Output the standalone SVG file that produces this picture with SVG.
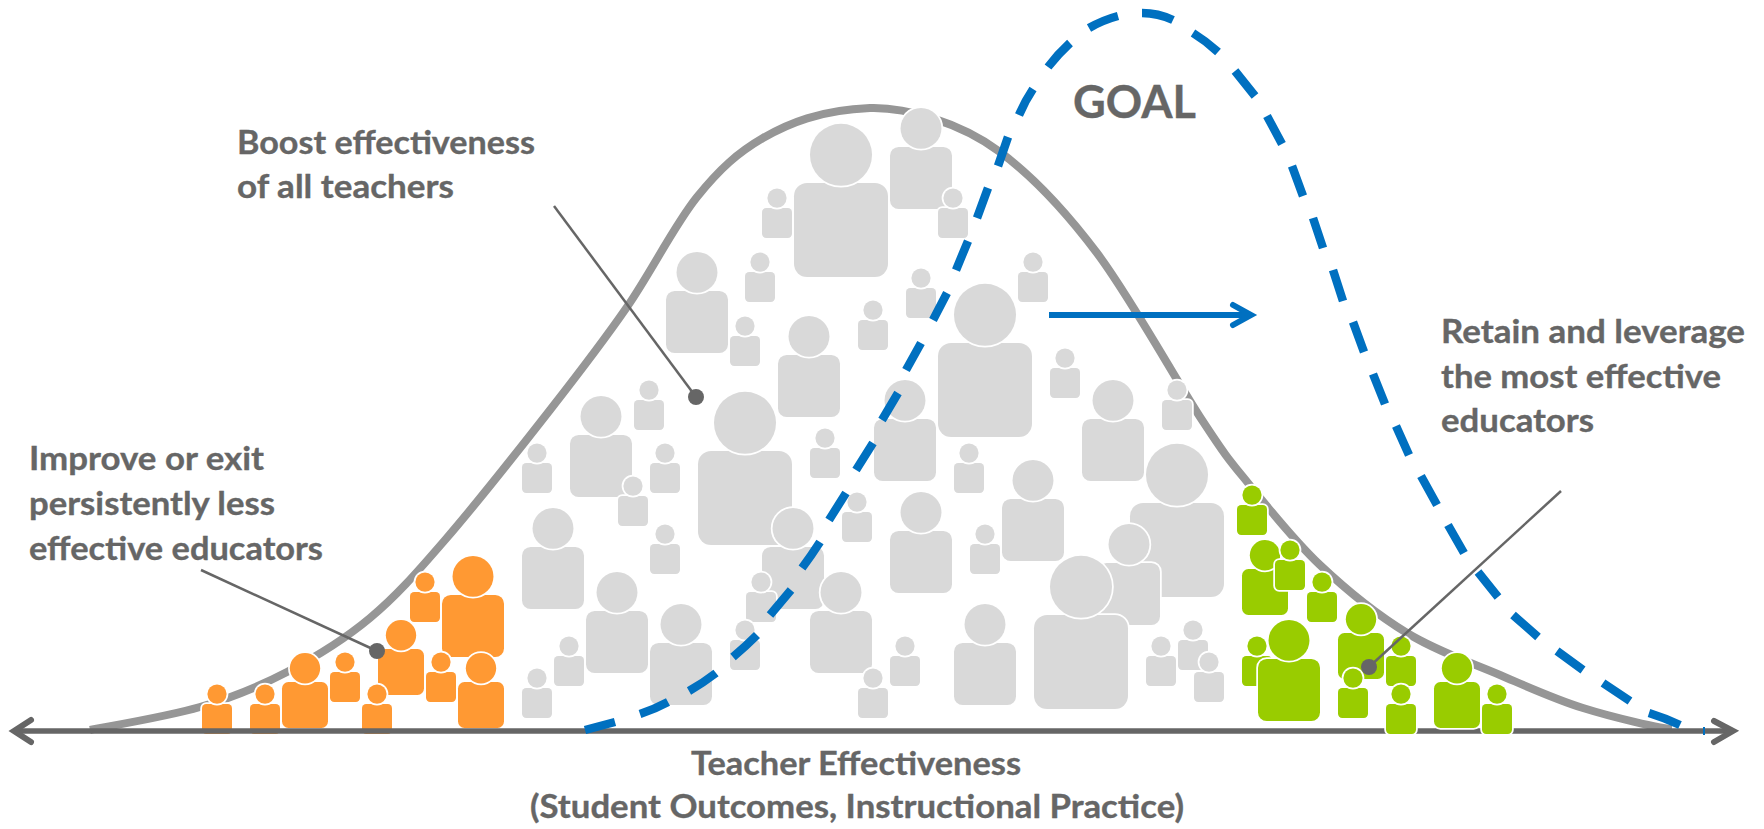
<svg xmlns="http://www.w3.org/2000/svg" width="1764" height="829" viewBox="0 0 1764 829">
<style>
text{font-family:Lato,"Liberation Sans",sans-serif;font-weight:700;fill:#666;stroke:#666;stroke-width:.35}
.t{font-size:33px}
.g{fill:#d9d9d9}.o{fill:#ff9933}.n{fill:#99cc00}
.p *{stroke:#fff;stroke-width:3.5;paint-order:stroke;vector-effect:non-scaling-stroke}
.line{fill:none;stroke:#666;stroke-width:2.5}
.dot{fill:#666}
</style>
<defs>
<g id="p" class="p"><rect x="-50" y="0" width="100" height="100" rx="14"/><circle cx="0" cy="-30" r="33"/></g>
<g id="s" class="p"><rect x="-50" y="0" width="100" height="100" rx="14"/><circle cx="0" cy="-33" r="32"/></g>
</defs>
<rect width="1764" height="829" fill="#fff"/>
<path id="curve" fill="none" stroke="#969696" stroke-width="8" d="M90 730C104 727 167 716.7 200 707C233 697.3 258.7 686.8 287 672C315.3 657.2 343.7 640 370 618C396.3 596 415 574.7 445 540C475 505.3 519.7 448.8 550 410C580.3 371.2 602.5 342.5 627 307C651.5 271.5 674.3 225.2 697 197C719.7 168.8 738 152.5 763 138C788 123.5 820 110 870 108C905 107 960 122 1000 152C1032.3 176 1063.3 208.3 1097 253C1130.7 297.7 1177 382 1202 420C1227 458 1228.3 458.8 1248 483C1267.7 507.2 1293.5 540 1320 565C1346.5 590 1377 614.7 1407 633C1437 651.3 1470.7 662.5 1500 675C1529.3 687.5 1554.3 699 1583 708C1611.7 717 1662 729 1672 729"/>
<g id="orange-people" class="o">
<use href="#s" transform="translate(217 704) scale(.3)"/>
<use href="#s" transform="translate(265 704) scale(.3)"/>
<use href="#p" transform="translate(305 682) scale(.46)"/>
<use href="#s" transform="translate(345 672) scale(.3)"/>
<use href="#p" transform="translate(401 649) scale(.46)"/>
<use href="#s" transform="translate(377 704) scale(.3)"/>
<use href="#s" transform="translate(425 592) scale(.3)"/>
<use href="#p" transform="translate(473 595) scale(.62)"/>
<use href="#s" transform="translate(441 672) scale(.3)"/>
<use href="#p" transform="translate(481 682) scale(.46)"/>
</g>
<g id="axis" fill="none" stroke="#666" stroke-width="5.5"><path d="M14 731H1733"/><path stroke-linecap="round" stroke-width="6" d="M31 720L14 731L31 742M1714 721L1733 731L1714 742"/></g>
<g id="gray-people" class="g">
<use href="#p" transform="translate(841 183) scale(.94)"/>
<use href="#p" transform="translate(921 147) scale(.62)"/>
<use href="#s" transform="translate(777 208) scale(.3)"/>
<use href="#s" transform="translate(953 208) scale(.3)"/>
<use href="#p" transform="translate(697 291) scale(.62)"/>
<use href="#s" transform="translate(760 272) scale(.3)"/>
<use href="#s" transform="translate(921 288) scale(.3)"/>
<use href="#s" transform="translate(1033 272) scale(.3)"/>
<use href="#s" transform="translate(745 336) scale(.3)"/>
<use href="#p" transform="translate(809 355) scale(.62)"/>
<use href="#s" transform="translate(873 320) scale(.3)"/>
<use href="#p" transform="translate(985 343) scale(.94)"/>
<use href="#s" transform="translate(1065 368) scale(.3)"/>
<use href="#p" transform="translate(1113 419) scale(.62)"/>
<use href="#s" transform="translate(1177 400) scale(.3)"/>
<use href="#s" transform="translate(537 463) scale(.3)"/>
<use href="#p" transform="translate(601 435) scale(.62)"/>
<use href="#s" transform="translate(649 400) scale(.3)"/>
<use href="#s" transform="translate(665 463) scale(.3)"/>
<use href="#s" transform="translate(633 496) scale(.3)"/>
<use href="#p" transform="translate(745 451) scale(.94)"/>
<use href="#s" transform="translate(825 448) scale(.3)"/>
<use href="#p" transform="translate(905 419) scale(.62)"/>
<use href="#s" transform="translate(969 463) scale(.3)"/>
<use href="#p" transform="translate(1033 499) scale(.62)"/>
<use href="#s" transform="translate(985 544) scale(.3)"/>
<use href="#p" transform="translate(921 531) scale(.62)"/>
<use href="#s" transform="translate(857 512) scale(.3)"/>
<use href="#s" transform="translate(665 544) scale(.3)"/>
<use href="#p" transform="translate(793 547) scale(.62)"/>
<use href="#s" transform="translate(761 592) scale(.3)"/>
<use href="#p" transform="translate(553 547) scale(.62)"/>
<use href="#p" transform="translate(617 611) scale(.62)"/>
<use href="#s" transform="translate(569 656) scale(.3)"/>
<use href="#s" transform="translate(537 688) scale(.3)"/>
<use href="#p" transform="translate(681 643) scale(.62)"/>
<use href="#s" transform="translate(745 640) scale(.3)"/>
<use href="#p" transform="translate(841 611) scale(.62)"/>
<use href="#s" transform="translate(873 688) scale(.3)"/>
<use href="#s" transform="translate(905 656) scale(.3)"/>
<use href="#p" transform="translate(985 643) scale(.62)"/>
<use href="#p" transform="translate(1177 503) scale(.94)"/>
<use href="#p" transform="translate(1129 563) scale(.62)"/>
<use href="#p" transform="translate(1081 615) scale(.94)"/>
<use href="#s" transform="translate(1161 656) scale(.3)"/>
<use href="#s" transform="translate(1193 640) scale(.3)"/>
<use href="#s" transform="translate(1209 672) scale(.3)"/>
</g>
<g id="goal-curve" fill="none" stroke="#0070c0" stroke-width="8.5">
<path d="M585 730L615 722M640 714Q655 709 668 702M689 691Q703 683 716 673M733 657Q746 646 757 635M770 615L791 590M802 568Q811 556 820 542M829 520L846 493M856 470L873 443M882 420L898 393M906 370L921 343M933 320L947 293M956 270L968 241M977 218L988 188M998 166L1008 137M1019 115Q1025 101 1033 89M1048 67Q1058 54 1070 43M1089 28Q1103 20 1118 16M1142 13Q1158 13 1173 20M1193 33Q1206 41 1218 52M1235 71L1255 96M1267 116L1282 144M1292 166L1303 196M1313 218L1323 248M1333 270L1343 301M1353 322L1364 352M1373 374L1385 404M1396 426L1409 455M1421 476L1437 505M1448 525L1464 553M1478 572L1498 597M1513 615L1538 637M1557 651L1583 670M1603 683L1630 701M1649 713Q1665 718 1680 725"/>
<path stroke-width="2" d="M1704 727V735"/>
</g>
<g id="goal-arrow" fill="none" stroke="#0070c0" stroke-width="6"><path d="M1049 315H1250"/><path stroke-linecap="round" d="M1233 305L1251 315L1233 325"/></g>
<g id="green-people" class="n">
<use href="#s" transform="translate(1252 505) scale(.3)"/>
<use href="#p" transform="translate(1265 569) scale(.46)"/>
<use href="#s" transform="translate(1290 560) scale(.3)"/>
<use href="#s" transform="translate(1322 592) scale(.3)"/>
<use href="#p" transform="translate(1361 633) scale(.46)"/>
<use href="#s" transform="translate(1401 656) scale(.3)"/>
<use href="#s" transform="translate(1257 656) scale(.3)"/>
<use href="#p" transform="translate(1289 659) scale(.62)"/>
<use href="#s" transform="translate(1353 688) scale(.3)"/>
<use href="#s" transform="translate(1401 704) scale(.3)"/>
<use href="#p" transform="translate(1457 682) scale(.46)"/>
<use href="#s" transform="translate(1497 704) scale(.3)"/>
</g>
<g id="connectors">
<path class="line" d="M554 206L696 397"/><circle class="dot" cx="696" cy="397" r="8"/>
<path class="line" d="M201 570L377 651"/><circle class="dot" cx="377" cy="651" r="8"/>
<path class="line" d="M1561 491L1369 667"/><circle class="dot" cx="1369" cy="667" r="8"/>
</g>
<g id="label-boost"><text class="t" x="237" y="153.5" textLength="298" lengthAdjust="spacingAndGlyphs">Boost effectiveness</text><text class="t" x="237" y="197.5" textLength="217" lengthAdjust="spacingAndGlyphs">of all teachers</text></g>
<g id="label-improve"><text class="t" x="29" y="470" textLength="235" lengthAdjust="spacingAndGlyphs">Improve or exit</text><text class="t" x="29" y="515" textLength="246" lengthAdjust="spacingAndGlyphs">persistently less</text><text class="t" x="29" y="560" textLength="294" lengthAdjust="spacingAndGlyphs">effective educators</text></g>
<g id="label-retain"><text class="t" x="1441" y="343" textLength="304" lengthAdjust="spacingAndGlyphs">Retain and leverage</text><text class="t" x="1441" y="388" textLength="280" lengthAdjust="spacingAndGlyphs">the most effective</text><text class="t" x="1441" y="432" textLength="153" lengthAdjust="spacingAndGlyphs">educators</text></g>
<text id="label-goal" x="1073" y="118" font-size="46" textLength="123" lengthAdjust="spacingAndGlyphs">GOAL</text>
<g id="label-axis"><text class="t" x="691" y="775" textLength="330" lengthAdjust="spacingAndGlyphs">Teacher Effectiveness</text><text class="t" x="530" y="818" textLength="654" lengthAdjust="spacingAndGlyphs">(Student Outcomes, Instructional Practice)</text></g>
</svg>
